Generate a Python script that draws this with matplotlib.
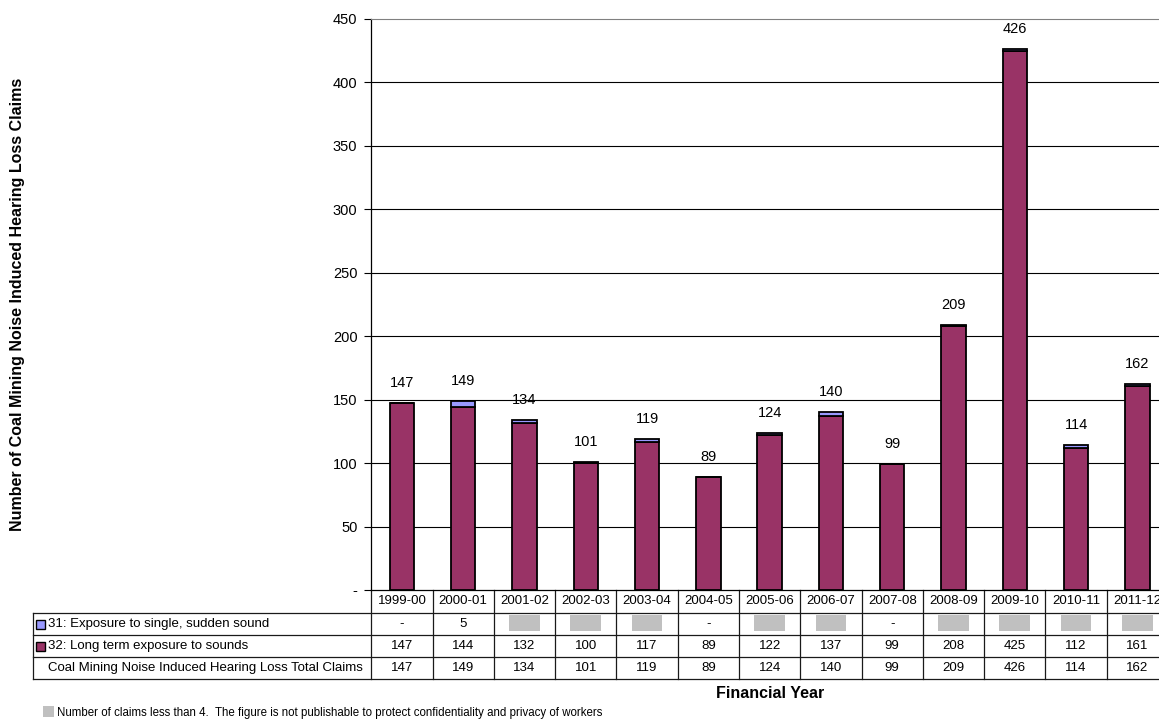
import matplotlib.pyplot as plt
import matplotlib.transforms as mtransforms
from matplotlib.patches import Rectangle

plt.rcParams['font.family'] = ['Liberation Sans', 'DejaVu Sans']

# data
years = ['1999-00', '2000-01', '2001-02', '2002-03', '2003-04', '2004-05', '2005-06',
         '2006-07', '2007-08', '2008-09', '2009-10', '2010-11', '2011-12']
long_term = [147, 144, 132, 100, 117, 89, 122, 137, 99, 208, 425, 112, 161]
sudden = [0, 5, 2, 1, 2, 0, 2, 3, 0, 1, 1, 2, 1]
sudden_suppressed = [False, False, True, True, True, False, True, True, False, True, True, True, True]
totals = [147, 149, 134, 101, 119, 89, 124, 140, 99, 209, 426, 114, 162]

row_labels = ['31: Exposure to single, sudden sound',
              '32: Long term exposure to sounds',
              'Coal Mining Noise Induced Hearing Loss Total Claims']
c_sudden = '#9999FF'
c_long = '#993366'
c_hidden = '#C0C0C0'

W, H = 1159, 719
fig = plt.figure(figsize=(W / 100, H / 100), dpi=100)
ax_l, ax_r, ax_t, ax_b = 371.3, 1168, 19, 590
ax = fig.add_axes([ax_l / W, 1 - ax_b / H, (ax_r - ax_l) / W, (ax_b - ax_t) / H])

x = range(len(years))
ax.bar(x, long_term, width=0.4, color=c_long, edgecolor='black', linewidth=1.3, zorder=3)
ax.bar(x, sudden, width=0.4, bottom=long_term, color=c_sudden, edgecolor='black',
       linewidth=1.3, zorder=3)

for i, t in enumerate(totals):
    ax.annotate(str(t), (i, t), xytext=(0, 14.5), textcoords='offset points',
                ha='center', va='center', fontsize=10.5, zorder=4)

ax.set_xlim(-0.5, 12.5)
ax.set_ylim(0, 450)
ax.set_yticks(range(0, 451, 50))
ax.set_yticklabels(['-' if v == 0 else str(v) for v in range(0, 451, 50)], fontsize=10.5)
ax.set_xticks([])
ax.tick_params(axis='y', direction='out', length=5, width=0.8, colors='black', pad=5)
for v in range(50, 450, 50):
    ax.axhline(v, color='black', linewidth=0.8, zorder=1)
ax.spines['top'].set_color('#808080')
ax.spines['right'].set_visible(False)
ax.spines['left'].set_linewidth(0.9)
ax.spines['bottom'].set_linewidth(0.9)

fig.text(18 / W, 1 - (ax_t + ax_b) / 2 / H, 'Number of Coal Mining Noise Induced Hearing Loss Claims',
         rotation=90, ha='center', va='center', fontsize=11.5, fontweight='bold')

# data table below the axis
trans = mtransforms.blended_transform_factory(ax.transData, ax.transAxes)
ah = ax_b - ax_t
def yf(py):
    return (ax_b - py) / ah

col_w = (ax_r - ax_l) / len(years)
x_left = -0.5 - (ax_l - 32.7) / col_w
rows_px = [590, 613, 635, 657, 679]
lc = '#1a1a1a'
lw = 0.9
for py in rows_px[1:]:
    ax.plot([x_left, len(years) - 0.5], [yf(py)] * 2, color=lc, lw=lw,
            transform=trans, clip_on=False)
ax.plot([x_left, x_left], [yf(613), yf(679)], color=lc, lw=lw, transform=trans, clip_on=False)
for k in range(len(years) + 1):
    ax.plot([k - 0.5] * 2, [yf(590), yf(679)], color=lc, lw=lw, transform=trans, clip_on=False)

def mid(a, b):
    return yf((rows_px[a] + rows_px[b]) / 2)

fs = 9.5
for i, yr in enumerate(years):
    ax.text(i, mid(0, 1), yr, transform=trans, ha='center', va='center', fontsize=fs)
    if sudden_suppressed[i]:
        ax.add_patch(Rectangle((i - 0.25, yf(631)), 0.5, yf(615) - yf(631), transform=trans,
                               facecolor=c_hidden, edgecolor='none', clip_on=False))
    else:
        ax.text(i, mid(1, 2), '-' if sudden[i] == 0 else str(sudden[i]), transform=trans,
                ha='center', va='center', fontsize=fs)
    ax.text(i, mid(2, 3), str(long_term[i]), transform=trans, ha='center', va='center', fontsize=fs)
    ax.text(i, mid(3, 4), str(totals[i]), transform=trans, ha='center', va='center', fontsize=fs)

sq = 9 / col_w
for r, (lab, col) in enumerate(zip(row_labels, [c_sudden, c_long, None])):
    ym = mid(r + 1, r + 2)
    if col is not None:
        ax.add_patch(Rectangle((x_left + 3.5 / col_w, ym - 4.5 / ah), sq, 9 / ah, transform=trans,
                               facecolor=col, edgecolor='black', linewidth=1, clip_on=False))
    ax.text(x_left + 15 / col_w, ym, lab, transform=trans, ha='left', va='center', fontsize=fs)

fig.text((ax_l + ax_r) / 2 / W, 1 - 693 / H, 'Financial Year', ha='center', va='center',
         fontsize=11.5, fontweight='bold')

fig.patches.append(Rectangle((43 / W, 1 - 717 / H), 11 / W, 11 / H, transform=fig.transFigure,
                             facecolor=c_hidden, edgecolor='none'))
fig.text(57 / W, 1 - 713 / H,
         'Number of claims less than 4.  The figure is not publishable to protect confidentiality and privacy of workers',
         ha='left', va='center', fontsize=8.3)

fig.savefig('out.png', dpi=100)
